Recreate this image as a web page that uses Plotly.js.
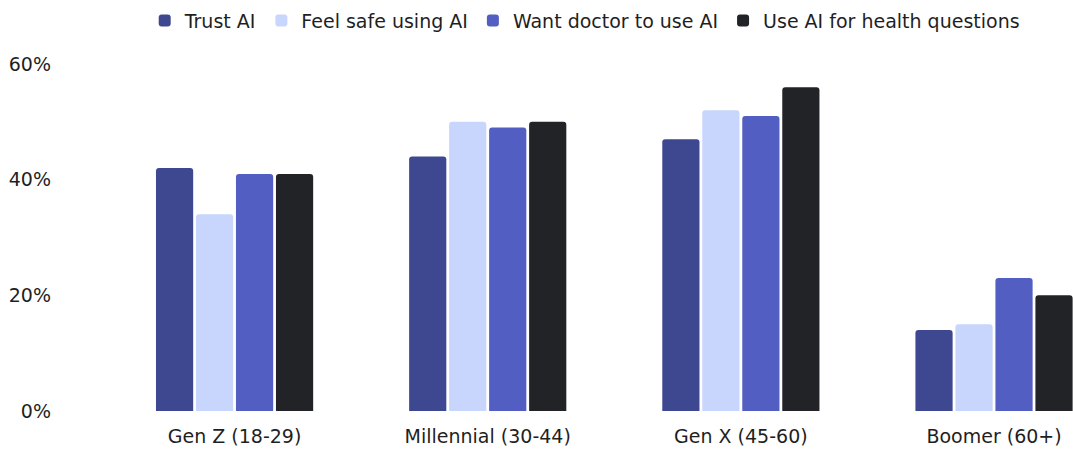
<!DOCTYPE html>
<html>
<head>
<meta charset="utf-8">
<script src="https://cdn.plot.ly/plotly-3.0.1.min.js"></script>
<style>
  html, body { margin: 0; padding: 0; background: #ffffff; overflow: hidden; }
  #chart { width: 1073px; height: 449px; }
</style>
</head>
<body>
<div id="chart"></div>
<script>
// Generations surveyed
const generations = ["Gen Z (18-29)", "Millennial (30-44)", "Gen X (45-60)", "Boomer (60+)"];

// Share of respondents per generation (percent)
const trustAI = [42, 44, 47, 14];
const feelSafe = [34, 50, 52, 15];
const wantDoctor = [41, 49, 51, 23];
const useForHealth = [41, 50, 56, 20];

const seriesNames = ["Trust AI", "Feel safe using AI", "Want doctor to use AI", "Use AI for health questions"];
const seriesColors = ["#3d4890", "#c8d6fd", "#525ec1", "#222327"];

const yTicks = [0, 20, 40, 60];
const yTickLabels = ["0%", "20%", "40%", "60%"];

const seriesValues = [trustAI, feelSafe, wantDoctor, useForHealth];

const traces = seriesValues.map((vals, i) => ({
  type: "bar",
  name: seriesNames[i],
  x: generations,
  y: vals,
  marker: { color: seriesColors[i], line: { width: 0 } },
  hoverinfo: "skip"
}));

const textFont = { family: "DejaVu Sans, Verdana, sans-serif", size: 19, color: "#1f1f1f" };

const layout = {
  width: 1073,
  height: 449,
  margin: { l: 108, r: 0, t: 64, b: 38 },
  paper_bgcolor: "#ffffff",
  plot_bgcolor: "#ffffff",
  font: textFont,
  barmode: "group",
  bargap: 0.368,
  bargroupgap: 0.07,
  barcornerradius: 3,
  showlegend: true,
  legend: {
    orientation: "h",
    x: 0.494,
    xanchor: "center",
    y: 1.125,
    yanchor: "middle",
    font: textFont,
    itemclick: false,
    itemdoubleclick: false
  },
  xaxis: {
    type: "category",
    range: [-0.5, 3.312],
    showgrid: false,
    zeroline: false,
    showline: false,
    ticks: "",
    ticklabelstandoff: 12,
    tickfont: textFont,
    fixedrange: true
  },
  yaxis: {
    range: [0, 60],
    tickvals: yTicks,
    ticktext: yTickLabels,
    showgrid: false,
    zeroline: false,
    showline: false,
    ticks: "",
    ticklabelstandoff: 56,
    tickfont: textFont,
    fixedrange: true
  }
};

Plotly.newPlot("chart", traces, layout, { staticPlot: true, displayModeBar: false });
</script>
</body>
</html>
